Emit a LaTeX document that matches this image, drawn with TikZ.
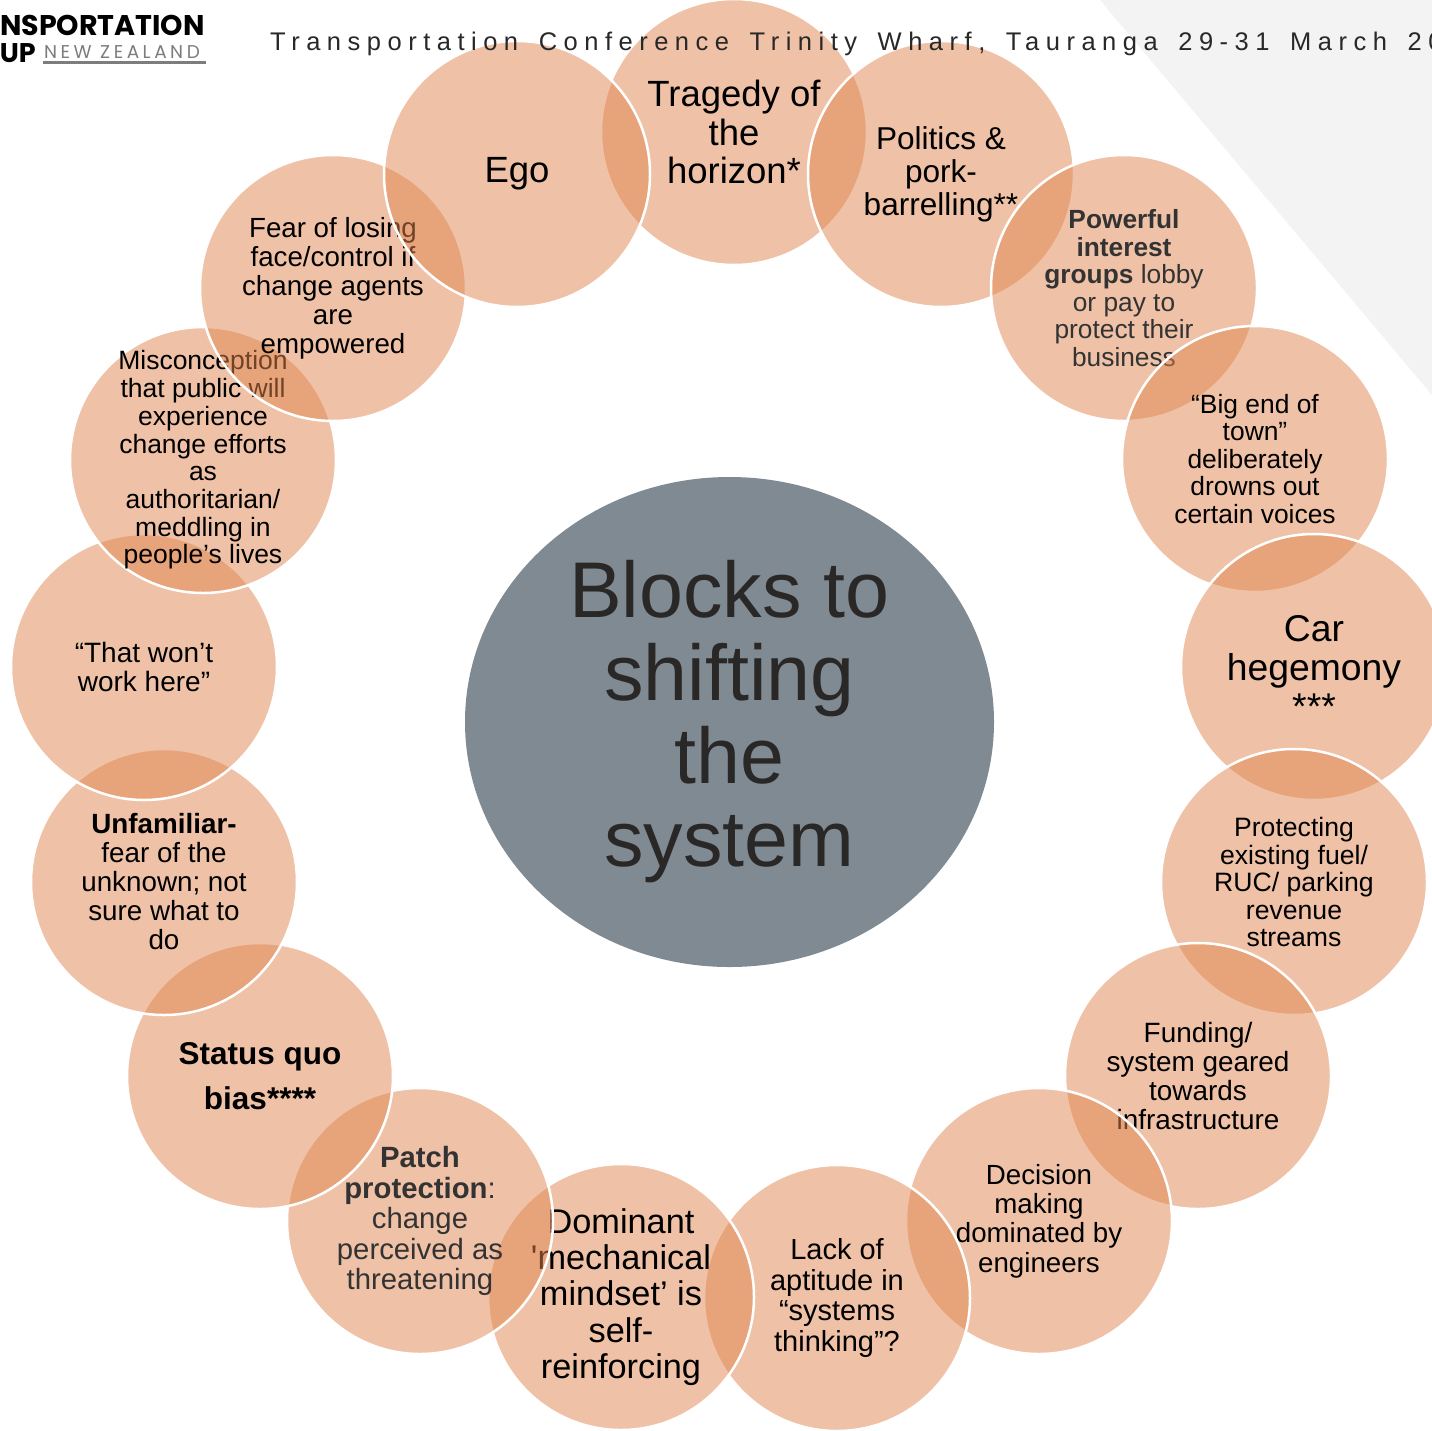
\documentclass[tikz,border=0pt]{standalone}
\usepackage{fontspec}
\setmainfont{Liberation Sans}
\newfontfamily\logofont{Poppins}
\usetikzlibrary{shapes.geometric}
\definecolor{peach}{RGB}{225,135,81}
\definecolor{hubgray}{RGB}{128,138,147}
\definecolor{hubtext}{RGB}{42,40,38}
\definecolor{bggray}{RGB}{243,243,244}
\definecolor{darktext}{RGB}{51,51,51}
\definecolor{headtext}{RGB}{40,40,40}
\definecolor{logogray}{RGB}{125,125,125}
\newcommand\fs[2]{\fontsize{#1}{#2}\selectfont}
\newcommand\hsp{\hspace{7pt}}
\tikzset{
  blob/.style={circle, minimum size=266pt, inner sep=0pt, fill=peach, fill opacity=0.5, draw=white, draw opacity=1, line width=2.5pt},
  lbl/.style={align=center, inner sep=0pt, text=black},
  hub/.style={ellipse, minimum width=529pt, minimum height=490pt, inner sep=0pt, fill=hubgray, text=hubtext, align=center},
}
\begin{document}
\begin{tikzpicture}[x=1pt,y=-1pt]
\useasboundingbox (0,0) rectangle (1432,1430);
\clip (0,0) rectangle (1432,1430);
\fill[white] (0,0) rectangle (1432,1430);
% background shape
\fill[bggray] (1100,0) -- (1432,0) -- (1432,395) -- cycle;
% logo
\node[anchor=base east, inner sep=0pt, font=\logofont\bfseries\fs{28.5}{28.5}] (logo1) at (205,35) {TRANSPORTATION};
\node[anchor=base east, inner sep=0pt, font=\logofont\bfseries\fs{27}{27}] (logo2) at (36,62) {GROUP};
\node[anchor=base west, inner sep=0pt, text=logogray, font=\logofont\fs{18.5}{18.5}\addfontfeature{LetterSpace=19}] (logo3) at (44,58) {NEW ZEALAND};
\coordinate (ulA) at (43,62.5);
\coordinate (ulB) at (206,62.5);
\draw[logogray, line width=2.5pt] (ulA) -- (ulB);
% circles, clockwise from the top
\node[blob] (tragedy) at (734,132) {};
\node[lbl, font=\fs{36.5}{38.5}] (tragedyT) at (tragedy.center) {Tragedy of\\the\\horizon*};
\node[blob] (politics) at (941,174) {};
\node[lbl, font=\fs{31.6}{33}] (politicsT) at (politics.center) {Politics \&\\pork-\\barrelling**};
\node[blob] (powerful) at (1124,288) {};
\node[lbl, text=darktext, font=\fs{26.3}{27.6}] (powerfulT) at (powerful.center) {\textbf{Powerful}\\\textbf{interest}\\\textbf{groups} lobby\\or pay to\\protect their\\business};
\node[blob] (bigend) at (1255,459) {};
\node[lbl, font=\fs{26.4}{27.5}] (bigendT) at (bigend.center) {“Big end of\\town”\\deliberately\\drowns out\\certain voices};
\node[blob] (car) at (1314,667) {};
\node[lbl, font=\fs{37.3}{39}] (carT) at (car.center) {Car\\hegemony\\***};
\node[blob] (protect) at (1294,882) {};
\node[lbl, font=\fs{26.6}{27.5}] (protectT) at (protect.center) {Protecting\\existing fuel/\\RUC/ parking\\revenue\\streams};
\node[blob] (funding) at (1198,1076) {};
\node[lbl, font=\fs{27.9}{29.3}] (fundingT) at (funding.center) {Funding/\\system geared\\towards\\infrastructure};
\node[blob] (decision) at (1039,1221) {};
\node[lbl, font=\fs{27.7}{29.3}] (decisionT) at (decision.center) {Decision\\making\\dominated by\\engineers};
\node[blob] (lack) at (837,1298) {};
\node[lbl, font=\fs{29}{30.7}] (lackT) at (lack.center) {Lack of\\aptitude in\\“systems\\thinking”?};
\node[blob] (dominant) at (621,1297) {};
\node[lbl, font=\fs{34.3}{36.3}] (dominantT) at (dominant.center) {Dominant\\\textquotesingle mechanical\\mindset’ is\\self-\\reinforcing};
\node[blob] (patch) at (420,1221) {};
\node[lbl, text=darktext, font=\fs{29.3}{30.5}] (patchT) at (patch.center) {\textbf{Patch}\\\textbf{protection}:\\change\\perceived as\\threatening};
\node[blob] (status) at (260,1076) {};
\node[lbl, font=\bfseries\fs{31.5}{45}] (statusT) at (status.center) {Status quo\\bias****};
\node[blob] (unfam) at (164,882) {};
\node[lbl, font=\fs{27.8}{29}] (unfamT) at (unfam.center) {\textbf{Unfamiliar-}\\fear of the\\unknown; not\\sure what to\\do};
\node[blob] (wont) at (144,667) {};
\node[lbl, font=\fs{28}{29}] (wontT) at (wont.center) {“That won’t\\work here”};
\node[blob] (miscon) at (203,460) {};
\node[lbl, font=\fs{26.5}{27.7}] (misconT) at (miscon.center) {Misconception\\that public will\\experience\\change efforts\\as\\authoritarian/\\meddling in\\people’s lives};
\node[blob] (fear) at (333,288) {};
\node[lbl, font=\fs{27.7}{29}] (fearT) at (fear.center) {Fear of losing\\face/control if\\change agents\\are\\empowered};
\node[blob] (ego) at (517,174) {};
\node[lbl, font=\fs{36.5}{38.5}] (egoT) at (ego.center) {Ego};
% hub
\node[hub, font=\fs{79}{83}] (hubN) at (729.5,722) {Blocks to\\shifting\\the\\system};
% header
\node[anchor=base west, inner sep=0pt, text=headtext, font=\fs{25.5}{25.5}\addfontfeature{LetterSpace=25.5}] (header) at (270,50) {Transportation \hsp Conference \hsp Trinity \hsp Wharf, \hsp Tauranga \hsp 29-31 \hsp March \hsp 2018};
\end{tikzpicture}
\end{document}
